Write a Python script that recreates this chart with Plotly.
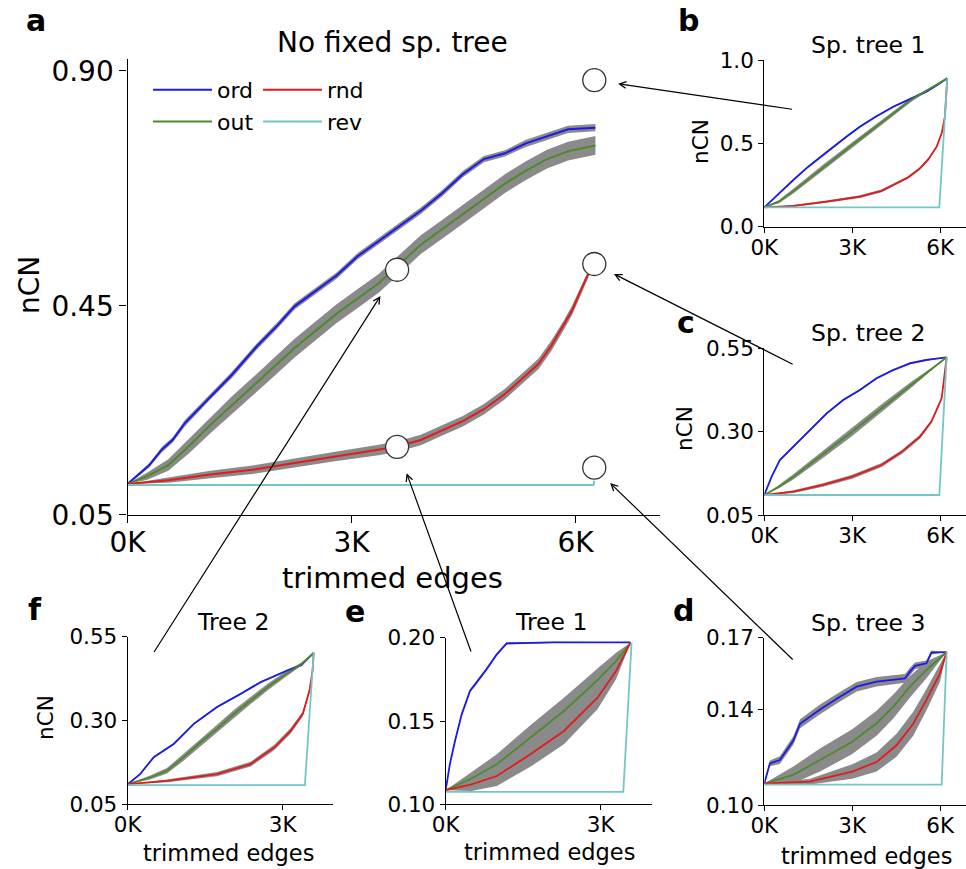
import plotly.graph_objects as go

W, H = 966, 869
FONT = "DejaVu Sans"
BLUE, GREEN, RED, TEAL, BAND = "#1a1aee", "#4b8b2b", "#e41a1c", "#72c6c6", "#8a8a8a"

# ---------------- data (x in thousands of trimmed edges) ----------------
# a: No fixed sp. tree
a_ord_x = [0, 0.152, 0.293, 0.462, 0.603, 0.772, 0.941, 1.110, 1.392, 1.730, 2.011, 2.237, 2.518, 2.800,
           3.082, 3.363, 3.645, 3.927, 4.208, 4.490, 4.772, 5.054, 5.335, 5.617, 5.899, 6.265]
a_ord_y = [0.109, 0.127, 0.145, 0.175, 0.193, 0.226, 0.251, 0.277, 0.317, 0.372, 0.413, 0.449, 0.479, 0.508,
           0.545, 0.574, 0.603, 0.632, 0.665, 0.702, 0.731, 0.742, 0.761, 0.775, 0.788, 0.791]
a_ord_sd = [0.0, 0.003, 0.004, 0.005, 0.005, 0.006, 0.006, 0.006, 0.006, 0.006, 0.006, 0.006, 0.006, 0.006,
            0.006, 0.006, 0.006, 0.006, 0.006, 0.006, 0.006, 0.006, 0.007, 0.007, 0.007, 0.007]
a_out_x = [0, 0.265, 0.546, 0.828, 1.110, 1.392, 1.673, 1.955, 2.237, 2.518, 2.800, 3.082, 3.363, 3.645,
           3.927, 4.208, 4.490, 4.772, 5.054, 5.335, 5.617, 5.899, 6.265]
a_out_y = [0.109, 0.124, 0.145, 0.182, 0.222, 0.259, 0.295, 0.332, 0.369, 0.402, 0.435, 0.464, 0.493, 0.530,
           0.567, 0.596, 0.625, 0.654, 0.684, 0.709, 0.731, 0.746, 0.757]
a_out_sd = [0.0, 0.007, 0.011, 0.014, 0.016, 0.017, 0.017, 0.018, 0.018, 0.018, 0.018, 0.018, 0.018, 0.018,
            0.018, 0.018, 0.018, 0.018, 0.018, 0.018, 0.018, 0.018, 0.018]
a_rnd_x = [0, 0.546, 1.110, 1.673, 2.237, 2.800, 3.363, 3.606, 3.927, 4.208, 4.490, 4.772, 5.054, 5.279,
           5.504, 5.673, 5.842, 5.955, 6.068, 6.152, 6.208]
a_rnd_y = [0.109, 0.116, 0.127, 0.136, 0.149, 0.162, 0.174, 0.180, 0.193, 0.211, 0.229, 0.252, 0.281, 0.310,
           0.339, 0.373, 0.413, 0.442, 0.479, 0.505, 0.523]
a_rnd_sd = [0.0, 0.005, 0.007, 0.008, 0.009, 0.009, 0.010, 0.010, 0.010, 0.010, 0.010, 0.010, 0.010, 0.010,
            0.010, 0.010, 0.009, 0.009, 0.008, 0.007, 0.005]
a_rev_x = [0, 6.24, 6.25]
a_rev_y = [0.107, 0.107, 0.115]
# zoom circles (same order as the inset arrows: b, c, d, e, f)
a_zoom_x = [6.25, 6.25, 6.25, 3.61, 3.61]
a_zoom_y = [0.882, 0.530, 0.140, 0.180, 0.519]

# b: Sp. tree 1
b_ord_x = [0, 0.5, 0.99, 1.5, 2.13, 2.8, 3.26, 3.8, 4.40, 5.0, 5.53, 5.9, 6.24]
b_ord_y = [0.116, 0.20, 0.28, 0.36, 0.45, 0.54, 0.60, 0.66, 0.72, 0.77, 0.81, 0.85, 0.89]
b_ord_sd = [0.0, 0.004, 0.005, 0.005, 0.005, 0.005, 0.005, 0.005, 0.005, 0.005, 0.005, 0.004, 0.0]
b_out_x = [0, 0.5, 1.0, 2.0, 3.0, 4.0, 5.0, 6.24]
b_out_y = [0.116, 0.15, 0.215, 0.355, 0.49, 0.625, 0.76, 0.89]
b_out_sd = [0.0, 0.010, 0.014, 0.016, 0.016, 0.015, 0.012, 0.0]
b_rnd_x = [0, 1.0, 2.12, 3.26, 4.0, 4.40, 4.9, 5.31, 5.6, 5.88, 6.05, 6.16, 6.24]
b_rnd_y = [0.116, 0.125, 0.15, 0.18, 0.215, 0.25, 0.295, 0.35, 0.405, 0.48, 0.56, 0.66, 0.89]
b_rnd_sd = [0.0, 0.005, 0.007, 0.008, 0.008, 0.008, 0.008, 0.008, 0.008, 0.007, 0.006, 0.005, 0.0]
b_rev_x = [0, 5.97, 6.24]
b_rev_y = [0.116, 0.116, 0.89]

# c: Sp. tree 2
c_ord_x = [0, 0.25, 0.53, 0.99, 1.56, 2.13, 2.69, 3.26, 3.83, 4.40, 4.97, 5.53, 6.22]
c_ord_y = [0.11, 0.165, 0.215, 0.255, 0.305, 0.355, 0.395, 0.425, 0.46, 0.485, 0.505, 0.515, 0.523]
c_ord_sd = [0.0, 0.002, 0.002, 0.003, 0.003, 0.003, 0.003, 0.003, 0.003, 0.003, 0.003, 0.003, 0.0]
c_out_x = [0, 0.5, 1.0, 2.0, 3.0, 4.0, 5.0, 6.22]
c_out_y = [0.11, 0.135, 0.165, 0.232, 0.30, 0.37, 0.44, 0.523]
c_out_sd = [0.0, 0.005, 0.008, 0.011, 0.013, 0.012, 0.009, 0.0]
c_rnd_x = [0, 1.0, 2.0, 3.0, 4.0, 4.7, 5.31, 5.7, 6.05, 6.22]
c_rnd_y = [0.11, 0.12, 0.14, 0.165, 0.20, 0.24, 0.285, 0.33, 0.40, 0.523]
c_rnd_sd = [0.0, 0.004, 0.005, 0.006, 0.006, 0.006, 0.006, 0.005, 0.004, 0.0]
c_rev_x = [0, 5.97, 6.22]
c_rev_y = [0.11, 0.11, 0.523]

# d: Sp. tree 3
d_ord_x = [0, 0.19, 0.53, 0.99, 1.22, 1.90, 2.58, 3.15, 3.83, 4.80, 4.97, 5.14, 5.53, 5.70, 6.22]
d_ord_y = [0.109, 0.1174, 0.1188, 0.127, 0.134, 0.140, 0.1453, 0.1495, 0.1516, 0.153, 0.1558, 0.1582,
           0.1593, 0.1638, 0.164]
d_ord_sd = [0.0, 0.0012, 0.0016, 0.0018, 0.0019, 0.002, 0.002, 0.002, 0.002, 0.0018, 0.0016, 0.0014,
            0.0012, 0.0008, 0.0]
d_out_x = [0, 0.99, 1.90, 3.0, 3.83, 4.40, 4.97, 5.53, 6.22]
d_out_y = [0.109, 0.1126, 0.1188, 0.1265, 0.1342, 0.1412, 0.1495, 0.1565, 0.164]
d_out_sd = [0.0, 0.0035, 0.0048, 0.0052, 0.0052, 0.005, 0.0045, 0.0035, 0.0]
d_rnd_x = [0, 1.56, 3.0, 3.83, 4.51, 5.08, 5.53, 5.99, 6.22]
d_rnd_y = [0.109, 0.1098, 0.114, 0.118, 0.125, 0.134, 0.144, 0.155, 0.164]
d_rnd_sd = [0.0, 0.0012, 0.003, 0.004, 0.0048, 0.005, 0.0045, 0.0035, 0.0]
d_rev_x = [0, 6.05, 6.22]
d_rev_y = [0.1085, 0.1085, 0.164]

# e: Tree 1
e_ord_x = [0, 0.08, 0.18, 0.31, 0.47, 0.60, 0.79, 0.99, 1.18, 2.09, 3.58]
e_ord_y = [0.1085, 0.124, 0.138, 0.154, 0.168, 0.173, 0.181, 0.190, 0.1966, 0.1972, 0.1972]
e_ord_sd = [0.0, 0.0008, 0.0009, 0.0009, 0.0009, 0.0009, 0.0009, 0.0008, 0.0007, 0.0004, 0.0]
e_out_x = [0, 0.50, 0.99, 1.64, 2.29, 2.94, 3.30, 3.58]
e_out_y = [0.1085, 0.1155, 0.124, 0.140, 0.156, 0.1745, 0.186, 0.197]
e_out_sd = [0.0, 0.004, 0.006, 0.0075, 0.008, 0.007, 0.005, 0.0]
e_rnd_x = [0, 0.50, 0.99, 1.64, 2.29, 2.94, 3.30, 3.58]
e_rnd_y = [0.1085, 0.112, 0.117, 0.130, 0.144, 0.164, 0.180, 0.197]
e_rnd_sd = [0.0, 0.004, 0.006, 0.0075, 0.008, 0.007, 0.005, 0.0]
e_rev_x = [0, 3.44, 3.60]
e_rev_y = [0.1075, 0.1075, 0.197]

# f: Tree 2
f_ord_x = [0, 0.24, 0.50, 0.89, 1.28, 1.73, 2.19, 2.58, 3.10, 3.36, 3.60]
f_ord_y = [0.11, 0.14, 0.19, 0.23, 0.29, 0.34, 0.38, 0.415, 0.45, 0.465, 0.502]
f_ord_sd = [0.0, 0.002, 0.003, 0.003, 0.003, 0.003, 0.003, 0.003, 0.003, 0.002, 0.0]
f_out_x = [0, 0.435, 0.76, 1.08, 1.41, 1.73, 2.06, 2.38, 2.71, 3.03, 3.36, 3.60]
f_out_y = [0.11, 0.13, 0.15, 0.19, 0.235, 0.275, 0.32, 0.36, 0.40, 0.435, 0.468, 0.502]
f_out_sd = [0.0, 0.006, 0.008, 0.010, 0.011, 0.012, 0.012, 0.011, 0.010, 0.008, 0.005, 0.0]
f_rnd_x = [0, 0.76, 1.73, 2.38, 2.84, 3.16, 3.39, 3.52, 3.58, 3.60]
f_rnd_y = [0.11, 0.12, 0.14, 0.17, 0.22, 0.27, 0.32, 0.39, 0.45, 0.502]
f_rnd_sd = [0.0, 0.004, 0.006, 0.007, 0.008, 0.008, 0.007, 0.006, 0.004, 0.0]
f_rev_x = [0, 3.43, 3.60]
f_rev_y = [0.107, 0.107, 0.502]

series_names = ["ord", "out", "rnd", "rev"]
series_colors = {"ord": BLUE, "out": GREEN, "rnd": RED, "rev": TEAL}

panels = {
    "a": dict(ax="", ord=(a_ord_x, a_ord_y, a_ord_sd), out=(a_out_x, a_out_y, a_out_sd),
              rnd=(a_rnd_x, a_rnd_y, a_rnd_sd), rev=(a_rev_x, a_rev_y)),
    "b": dict(ax="2", ord=(b_ord_x, b_ord_y, b_ord_sd), out=(b_out_x, b_out_y, b_out_sd),
              rnd=(b_rnd_x, b_rnd_y, b_rnd_sd), rev=(b_rev_x, b_rev_y)),
    "c": dict(ax="3", ord=(c_ord_x, c_ord_y, c_ord_sd), out=(c_out_x, c_out_y, c_out_sd),
              rnd=(c_rnd_x, c_rnd_y, c_rnd_sd), rev=(c_rev_x, c_rev_y)),
    "d": dict(ax="4", ord=(d_ord_x, d_ord_y, d_ord_sd), out=(d_out_x, d_out_y, d_out_sd),
              rnd=(d_rnd_x, d_rnd_y, d_rnd_sd), rev=(d_rev_x, d_rev_y)),
    "e": dict(ax="5", ord=(e_ord_x, e_ord_y, e_ord_sd), out=(e_out_x, e_out_y, e_out_sd),
              rnd=(e_rnd_x, e_rnd_y, e_rnd_sd), rev=(e_rev_x, e_rev_y)),
    "f": dict(ax="6", ord=(f_ord_x, f_ord_y, f_ord_sd), out=(f_out_x, f_out_y, f_out_sd),
              rnd=(f_rnd_x, f_rnd_y, f_rnd_sd), rev=(f_rev_x, f_rev_y)),
}

fig = go.Figure()

for key, p in panels.items():
    xa, ya = "x" + p["ax"], "y" + p["ax"]
    lw = 2.0 if key == "a" else 1.8
    # gray bands
    for s in ["ord", "out", "rnd"]:
        x, y, sd = p[s]
        up = [v + d for v, d in zip(y, sd)]
        lo = [v - d for v, d in zip(y, sd)]
        fig.add_trace(go.Scatter(x=list(x) + list(x)[::-1], y=up + lo[::-1], fill="toself",
                                 fillcolor=BAND, line=dict(width=0, color=BAND), mode="lines",
                                 hoverinfo="skip", showlegend=False, xaxis=xa, yaxis=ya))
    for s in series_names:
        x, y = p[s][0], p[s][1]
        show = key == "a"
        fig.add_trace(go.Scatter(x=x, y=y, mode="lines", name=s,
                                 line=dict(color=series_colors[s], width=lw),
                                 showlegend=show, legendgroup=s,
                                 legend="legend" if s in ("ord", "out") else "legend2",
                                 xaxis=xa, yaxis=ya))

# zoom circles on main panel
fig.add_trace(go.Scatter(x=a_zoom_x, y=a_zoom_y, mode="markers", showlegend=False,
                         marker=dict(size=23, color="white", line=dict(color="#333333", width=1.3)),
                         cliponaxis=False, hoverinfo="skip"))

def px(v):
    return v / W

def py(v):
    return 1 - v / H

axis_common = dict(showgrid=False, zeroline=False, showline=True, linecolor="black", linewidth=1.3,
                   ticks="outside", tickcolor="black", tickwidth=1.3, fixedrange=True)

ax_specs = {
    "": dict(xd=(127.5, 660), xr=[0, 7.13], yd=(514.7, 59.3), yr=[0.05, 0.922],
             yt=[0.05, 0.45, 0.90], ytt=["0.05", "0.45", "0.90"], xt=[0, 3, 6], big=True),
    "2": dict(xd=(764.3, 966), xr=[0, 6.88], yd=(226.7, 60), yr=[0, 1.0],
              yt=[0, 0.5, 1.0], ytt=["0.0", "0.5", "1.0"], xt=[0, 3, 6]),
    "3": dict(xd=(764.3, 966), xr=[0, 6.88], yd=(515, 348.3), yr=[0.05, 0.55],
              yt=[0.05, 0.30, 0.55], ytt=["0.05", "0.30", "0.55"], xt=[0, 3, 6]),
    "4": dict(xd=(764.3, 966), xr=[0, 6.88], yd=(805, 637.7), yr=[0.10, 0.17],
              yt=[0.10, 0.14, 0.17], ytt=["0.10", "0.14", "0.17"], xt=[0, 3, 6]),
    "5": dict(xd=(445.7, 651.7), xr=[0, 3.99], yd=(804.3, 637.7), yr=[0.10, 0.20],
              yt=[0.10, 0.15, 0.20], ytt=["0.10", "0.15", "0.20"], xt=[0, 3]),
    "6": dict(xd=(127.7, 333.3), xr=[0, 3.98], yd=(804.3, 636.7), yr=[0.05, 0.55],
              yt=[0.05, 0.30, 0.55], ytt=["0.05", "0.30", "0.55"], xt=[0, 3]),
}

layout_axes = {}
for k, s in ax_specs.items():
    big = s.get("big", False)
    fsize = 28 if big else 21.5
    tl = 7 if big else 5
    xa = dict(axis_common, domain=[px(s["xd"][0]), px(s["xd"][1])], range=s["xr"],
              anchor="y" + k, tickvals=s["xt"], ticktext=[f"{v}K" for v in s["xt"]], ticklen=tl,
              ticklabelstandoff=-4,
              tickfont=dict(family=FONT, size=fsize, color="black"))
    ya = dict(axis_common, domain=[py(s["yd"][0]), py(s["yd"][1])], range=s["yr"],
              anchor="x" + k, tickvals=s["yt"], ticktext=s["ytt"], ticklen=tl,
              tickfont=dict(family=FONT, size=fsize, color="black"))
    layout_axes["xaxis" + k] = xa
    layout_axes["yaxis" + k] = ya

annotations = []

def text(t, x, y, size, bold=False, angle=0):
    annotations.append(dict(text=f"<b>{t}</b>" if bold else t, x=px(x), y=py(y), xref="paper",
                            yref="paper", showarrow=False, xanchor="center", yanchor="middle",
                            textangle=angle, font=dict(family=FONT, size=size, color="black")))

# panel letters
for letter, (lx, ly) in {"a": (36, 21), "b": (688, 20), "c": (686, 323), "d": (683, 610),
                         "e": (355, 611), "f": (35, 609)}.items():
    text(letter, lx, ly, 30, bold=True)

# titles
text("No fixed sp. tree", 392, 42, 28)
text("Sp. tree 1", 868, 45, 23.5)
text("Sp. tree 2", 868, 333, 23.5)
text("Sp. tree 3", 868, 623, 23.5)
text("Tree 1", 551, 622, 23.5)
text("Tree 2", 233, 622, 23.5)

# axis titles
text("nCN", 29, 285, 28, angle=-90)
text("trimmed edges", 392, 578, 29)
text("nCN", 700, 142, 21.5, angle=-90)
text("nCN", 685, 429, 21.5, angle=-90)
text("nCN", 45, 718, 21.5, angle=-90)
text("trimmed edges", 866, 856, 22.5)
text("trimmed edges", 549, 852, 22.5)
text("trimmed edges", 228, 853, 22.5)

# arrows from inset panels (b, c, d, e, f) to zoom circles; tail offsets in pixels, standoff
arrow_tails = [(199.3, 29.3, 24), (199.9, 101, 22), (199.9, 193.3, 22), (74.4, 206.2, 28), (-244, 383.7, 31)]
for zx, zy, (dx, dy, so) in zip(a_zoom_x, a_zoom_y, arrow_tails):
    annotations.append(dict(x=zx, y=zy, xref="x", yref="y", ax=dx, ay=dy, text="", showarrow=True,
                            arrowhead=5, arrowsize=1.1, arrowwidth=1.2, arrowcolor="black",
                            standoff=so))

leg_common = dict(orientation="v", font=dict(family=FONT, size=22, color="black"),
                  bgcolor="rgba(0,0,0,0)", itemwidth=59, tracegroupgap=0, traceorder="grouped",
                  yanchor="top", xanchor="left")

fig.update_layout(
    width=W, height=H, margin=dict(l=0, r=0, t=0, b=0, autoexpand=False),
    paper_bgcolor="white", plot_bgcolor="white", showlegend=True,
    legend=dict(leg_common, x=px(148), y=py(69)),
    legend2=dict(leg_common, x=px(258), y=py(69)),
    annotations=annotations,
    **layout_axes,
)

fig.write_html("out.html", config={"displayModeBar": False},
               post_script="document.body.style.margin='0px';document.body.style.overflow='hidden';")
